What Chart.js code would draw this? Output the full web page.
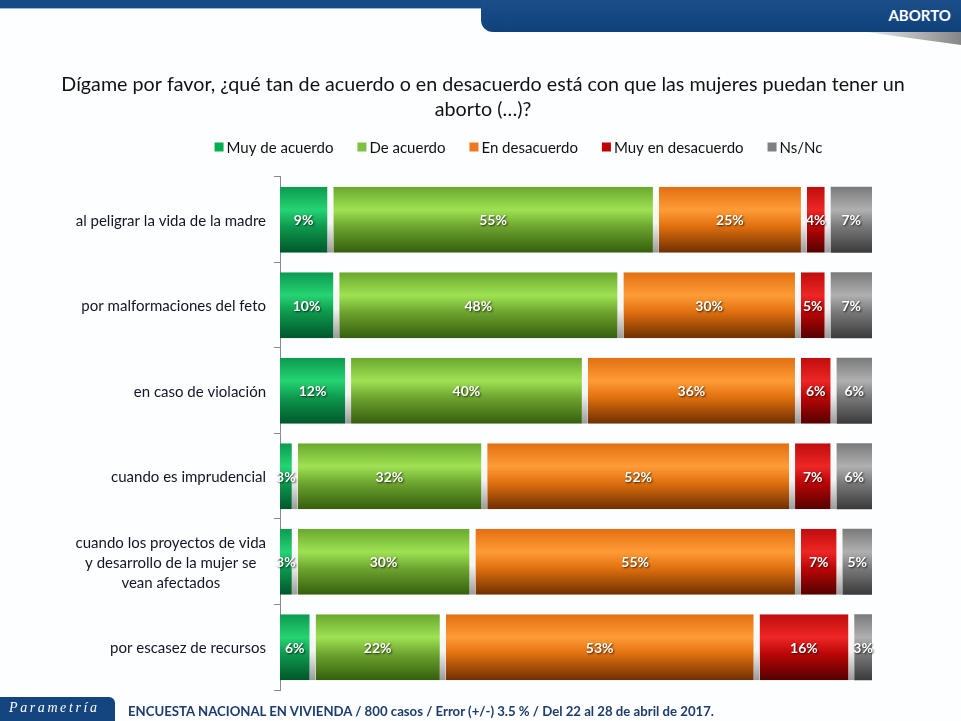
<!DOCTYPE html>
<html><head><meta charset="utf-8">
<script src="https://cdn.jsdelivr.net/npm/chart.js@4.4.0/dist/chart.umd.min.js"></script>
<style>
html,body{margin:0;padding:0;background:#fff;width:961px;height:721px;overflow:hidden;font-family:Lato,sans-serif}
#wrap{position:relative;width:961px;height:721px;background:#fdfeff}
#c{position:absolute;left:0;top:0}
.topstrip{position:absolute;left:0;top:0;width:961px;height:8px;background:#164b86;border-bottom:1px solid #9cb8d6}
.tab{position:absolute;left:481px;top:0;width:480px;height:32px;background:linear-gradient(#1b4f8a,#0f417b);border-bottom-left-radius:12px}
.tabtxt{position:absolute;right:10px;top:6px;color:#fff;font:bold 15px Lato,sans-serif}
.shadow{position:absolute;left:866px;top:32px;width:95px;height:13px;background:linear-gradient(90deg,rgba(150,150,150,0.2),rgba(120,120,120,0.9));clip-path:polygon(0 0,100% 0,100% 100%)}
.fbox{position:absolute;left:0;top:697px;width:115px;height:24px;background:#15457f;border-top-right-radius:6px}
.fbox span{position:absolute;left:9px;top:3px;color:#fff;font:italic 14px 'Liberation Serif',serif;letter-spacing:2.6px}
.ftxt{position:absolute;left:128px;top:703px;color:#1d3c6e;font:bold 13.2px Lato,sans-serif}
</style></head>
<body><div id="wrap">
<div class="topstrip"></div>
<div class="tab"><div class="tabtxt">ABORTO</div></div>
<div class="shadow"></div>
<canvas id="c" width="961" height="721"></canvas>
<div class="fbox"><span>Parametría</span></div>
<div class="ftxt">ENCUESTA NACIONAL EN VIVIENDA / 800 casos / Error (+/-) 3.5 % / Del 22 al 28 de abril de 2017.</div>
</div>
<script>
const categories = [
  ["al peligrar la vida de la madre"],
  ["por malformaciones del feto"],
  ["en caso de violación"],
  ["cuando es imprudencial"],
  ["cuando los proyectos de vida","y desarrollo de la mujer se","vean afectados"],
  ["por escasez de recursos"]
];
const seriesNames = ["Muy de acuerdo","De acuerdo","En desacuerdo","Muy en desacuerdo","Ns/Nc"];
const muyDeAcuerdo     = [9, 10, 12, 3, 3, 6];
const deAcuerdo        = [55, 48, 40, 32, 30, 22];
const enDesacuerdo     = [25, 30, 36, 52, 55, 53];
const muyEnDesacuerdo  = [4, 5, 6, 7, 7, 16];
const nsNc             = [7, 7, 6, 6, 5, 3];
const titleLines = ["Dígame por favor, ¿qué tan de acuerdo o en desacuerdo está con que las mujeres puedan tener un","aborto (…)?"];

const baseColors = ["#00B050","#7DC241","#F07820","#C00000","#808080"];
const grads = [
  ["#0c9a50","#25d472","#0e9a4e","#00572a"],
  ["#6aa72e","#9ee253","#6ea530","#355e0c"],
  ["#e26f12","#ff9c35","#e0700f","#6e2f00"],
  ["#c00c0c","#ee2626","#bb0606","#550000"],
  ["#7a7a7a","#b0b0b0","#7a7a7a","#3a3a3a"]
];
const BAR_PCT = 0.772;

function barGradient(ctx, si){
  const chart = ctx.chart;
  if (!chart.chartArea || ctx.type !== 'data') return baseColors[si];
  const ys = chart.scales.y;
  const y = ys.getPixelForValue(ctx.dataIndex);
  const h = ys.height / categories.length * BAR_PCT;
  const g = chart.ctx.createLinearGradient(0, y - h/2, 0, y + h/2);
  const c = grads[si];
  g.addColorStop(0, c[0]); g.addColorStop(0.35, c[1]); g.addColorStop(0.6, c[2]); g.addColorStop(1, c[3]);
  return g;
}
function gapGradient(ctx){
  const chart = ctx.chart;
  if (!chart.chartArea || ctx.type !== 'data') return '#eeeeee';
  const ys = chart.scales.y;
  const y = ys.getPixelForValue(ctx.dataIndex);
  const h = ys.height / categories.length * BAR_PCT;
  const g = chart.ctx.createLinearGradient(0, y - h/2, 0, y + h/2);
  g.addColorStop(0, '#ffffff'); g.addColorStop(0.55, '#f4f4f4'); g.addColorStop(1, '#9a9a9a');
  return g;
}

const seriesData = [muyDeAcuerdo, deAcuerdo, enDesacuerdo, muyEnDesacuerdo, nsNc];
const datasets = seriesData.map((d, i) => ({
  label: seriesNames[i],
  data: d,
  backgroundColor: (ctx) => barGradient(ctx, i),
  borderColor: gapGradient,
  borderWidth: i < 4 ? {left:0, top:0, bottom:0, right:6} : 0,
  borderSkipped: false,
  barPercentage: BAR_PCT,
  categoryPercentage: 1
}));

const valueLabels = {
  id: 'valueLabels',
  afterDatasetsDraw(chart){
    const ctx = chart.ctx;
    ctx.save();
    ctx.font = 'bold 14px Lato, sans-serif';
    ctx.textAlign = 'center';
    ctx.textBaseline = 'middle';
    ctx.fillStyle = '#ffffff';
    ctx.shadowColor = 'rgba(0,0,0,0.75)';
    ctx.shadowBlur = 2;
    ctx.shadowOffsetX = 1;
    ctx.shadowOffsetY = 1;
    chart.data.datasets.forEach((ds, di) => {
      const meta = chart.getDatasetMeta(di);
      const gap = di < 4 ? 6 : 0;
      meta.data.forEach((el, i) => {
        const x = (el.base + el.x - gap) / 2;
        ctx.fillText(ds.data[i] + '%', x, el.y + 1);
      });
    });
    ctx.restore();
  }
};

const catLabels = {
  id: 'catLabels',
  afterDraw(chart){
    const ctx = chart.ctx;
    const ys = chart.scales.y;
    ctx.save();
    ctx.font = '15px Lato, sans-serif';
    ctx.fillStyle = '#141428';
    ctx.textAlign = 'center';
    ctx.textBaseline = 'middle';
    const right = chart.chartArea.left - 14;
    const lh = 20;
    categories.forEach((lines, i) => {
      const y = ys.getPixelForValue(i) + 1;
      const w = Math.max(...lines.map(l => ctx.measureText(l).width));
      const cx = right - w/2;
      lines.forEach((l, k) => {
        ctx.fillText(l, cx, y + (k - (lines.length - 1)/2) * lh);
      });
    });
    ctx.restore();
  }
};

// legend drawn as canvas text, from the dataset labels and colours
const customLegend = {
  id: 'customLegend',
  afterDraw(chart){
    const ctx = chart.ctx;
    ctx.save();
    ctx.font = '15px Lato, sans-serif';
    ctx.textBaseline = 'middle';
    ctx.textAlign = 'left';
    const box = 9, boxGap = 3, itemGap = 24, cy = 147, centerX = 518.5;
    const items = chart.data.datasets.map((ds, i) => ({ text: ds.label, color: baseColors[i], w: box + boxGap + ctx.measureText(ds.label).width }));
    const total = items.reduce((s, it) => s + it.w, 0) + itemGap * (items.length - 1);
    let x = centerX - total / 2;
    items.forEach(it => {
      ctx.fillStyle = it.color;
      ctx.fillRect(x, cy - box/2, box, box);
      ctx.fillStyle = '#111111';
      ctx.fillText(it.text, x + box + boxGap, cy + 1);
      x += it.w + itemGap;
    });
    ctx.restore();
  }
};

const titleShift = {
  id: 'titleShift',
  afterLayout(chart){
    if (chart.titleBlock) { chart.titleBlock.left += 47; chart.titleBlock.right += 47; }
  }
};

new Chart(document.getElementById('c'), {
  type: 'bar',
  data: { labels: categories.map(c => c.join(' ')), datasets },
  options: {
    responsive: false,
    animation: false,
    indexAxis: 'y',
    layout: { padding: { left: 0, right: 89, top: 0, bottom: 31 } },
    scales: {
      x: { stacked: true, min: 0, max: 100, display: false },
      y: {
        stacked: true,
        offset: true,
        grid: { display: true, drawOnChartArea: false, drawTicks: true, tickLength: 6, color: '#8a8a8a', offset: true },
        border: { display: true, color: '#8a8a8a', width: 1 },
        ticks: { display: false },
        afterFit(scale){ scale.width = 280; }
      }
    },
    plugins: {
      title: {
        display: true,
        text: titleLines,
        color: '#111111',
        font: { family: 'Lato, sans-serif', size: 19.7, weight: 'normal', lineHeight: 1.269 },
        padding: { top: 72, bottom: 55 }
      },
      legend: { display: false },
      tooltip: { enabled: false }
    }
  },
  plugins: [valueLabels, catLabels, customLegend, titleShift]
});
</script>
</body></html>
